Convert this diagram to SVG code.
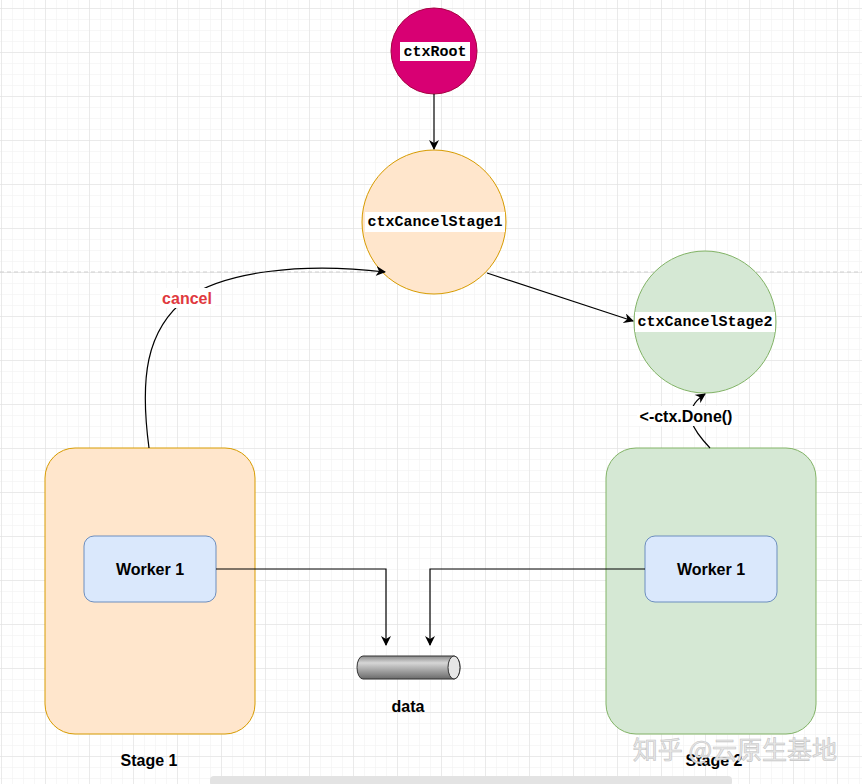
<svg xmlns="http://www.w3.org/2000/svg" width="862" height="784" viewBox="0 0 862 784">
<defs>
<pattern id="minor" x="1" y="8" width="11" height="11" patternUnits="userSpaceOnUse">
<path d="M0,0 H11 M0,0 V11" fill="none" stroke="#f0f0f0" stroke-width="1"/>
</pattern>
<pattern id="major" x="1" y="8" width="44" height="44" patternUnits="userSpaceOnUse">
<path d="M0,0 H44 M0,0 V44" fill="none" stroke="#dedede" stroke-width="1"/>
</pattern>
<linearGradient id="cyl" x1="0" y1="0" x2="0" y2="1">
<stop offset="0" stop-color="#8a8a8a"/>
<stop offset="0.3" stop-color="#d6d6d6"/>
<stop offset="1" stop-color="#6a6a6a"/>
</linearGradient>
<marker id="arr" viewBox="0 0 10 10" refX="9" refY="5" markerWidth="10" markerHeight="10" markerUnits="userSpaceOnUse" orient="auto">
<path d="M0,0 L10,5 L0,10 L3,5 Z" fill="#000"/>
</marker>
<style>
.circ-label{font-family:"Liberation Mono",monospace;font-weight:bold;font-size:15px;fill:#000;text-anchor:middle;dominant-baseline:central}
.lbl{font-family:"Liberation Sans",Arial,sans-serif;font-weight:bold;font-size:16px;fill:#000;text-anchor:middle;dominant-baseline:central}
.edge{fill:none;stroke:#000;stroke-width:1.2}
.worker{fill:#dae8fc;stroke:#6c8ebf;stroke-width:1}
</style>
</defs>
<rect width="862" height="784" fill="#fff"/>
<rect width="862" height="784" fill="url(#minor)"/>
<rect width="862" height="784" fill="url(#major)"/>
<line x1="0" y1="272" x2="862" y2="272" stroke="#cfcfcf" stroke-width="1" stroke-dasharray="4 3"/>

<g id="stage1">
<rect x="45" y="448" width="210" height="286" rx="30" fill="#ffe6cc" stroke="#d79b00" stroke-width="1"/>
<text class="lbl" x="149" y="760">Stage 1</text>
</g>
<g id="stage2">
<rect x="606" y="448" width="210" height="286" rx="30" fill="#d5e8d4" stroke="#82b366" stroke-width="1"/>
<text class="lbl" x="714" y="760">Stage 2</text>
</g>
<g id="worker-left">
<rect class="worker" x="84" y="536" width="132" height="66" rx="10"/>
<text class="lbl" x="150" y="569">Worker 1</text>
</g>
<g id="worker-right">
<rect class="worker" x="645" y="536" width="132" height="66" rx="10"/>
<text class="lbl" x="711" y="569">Worker 1</text>
</g>
<g id="data">
<path d="M363,656 L454,656 A6,11.5 0 0 1 454,679 L363,679 A6,11.5 0 0 1 363,656 Z" fill="url(#cyl)" stroke="#333" stroke-width="1"/>
<ellipse cx="454" cy="667.5" rx="6" ry="11.5" fill="#e6e6e6" stroke="#333" stroke-width="1"/>
<text class="lbl" x="408" y="706">data</text>
</g>
<g id="ctxRoot">
<circle cx="434" cy="51" r="43" fill="#d80073" stroke="#a50040" stroke-width="1"/>
<rect x="400" y="42" width="70" height="19" fill="#fff"/>
<text class="circ-label" x="435" y="52">ctxRoot</text>
</g>
<g id="ctxCancelStage1">
<circle cx="434" cy="222" r="72" fill="#ffe6cc" stroke="#d79b00" stroke-width="1"/>
<rect x="365" y="212" width="140" height="20" fill="#fff"/>
<text class="circ-label" x="435" y="222">ctxCancelStage1</text>
</g>
<g id="ctxCancelStage2">
<circle cx="705" cy="322" r="71" fill="#d5e8d4" stroke="#82b366" stroke-width="1"/>
<rect x="635" y="312" width="140" height="20" fill="#fff"/>
<text class="circ-label" x="705" y="322">ctxCancelStage2</text>
</g>

<g id="connectors">
<path class="edge" d="M434,94 L434,149" marker-end="url(#arr)"/>
<path class="edge" d="M487,273 L633,321" marker-end="url(#arr)"/>
<path class="edge" d="M216,569 L386,569 L386,645" marker-end="url(#arr)"/>
<path class="edge" d="M645,569 L430,569 L430,645" marker-end="url(#arr)"/>
<path class="edge" d="M149,448 C140,380 145,330 187,298 C225,272 300,262 385,272" marker-end="url(#arr)"/>
<path class="edge" d="M710,448 C695,432 678,412 705,394" marker-end="url(#arr)"/>
<rect x="160" y="288" width="55" height="20" fill="#fff"/>
<text class="lbl" x="187" y="298" style="fill:#e0393e">cancel</text>
<rect x="637" y="406" width="98" height="20" fill="#fff"/>
<text class="lbl" x="686" y="416">&lt;-ctx.Done()</text>
</g>

<text x="735" y="748" font-family="'Noto Sans CJK SC',sans-serif" font-size="25" fill="#e8e8e8" stroke="#c4c4c4" stroke-width="0.6" text-anchor="middle" dominant-baseline="central">知乎 @云原生基地</text>
<rect x="210" y="776" width="522" height="10" rx="4" fill="#e3e3e3"/>
</svg>
